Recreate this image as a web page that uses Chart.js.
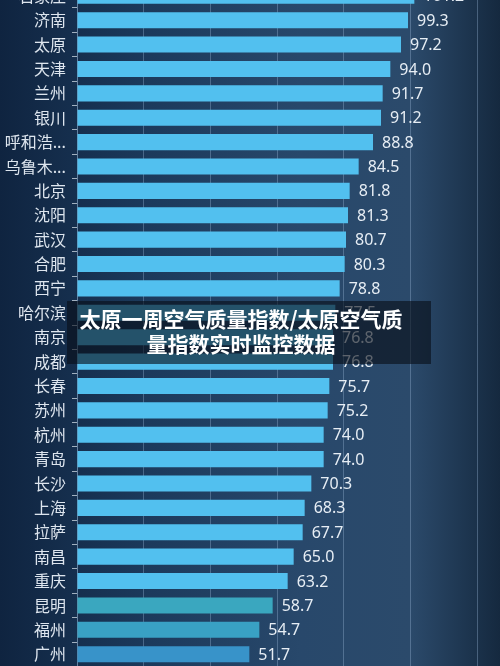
<!DOCTYPE html>
<html>
<head>
<meta charset="utf-8">
<script src="https://cdn.jsdelivr.net/npm/chart.js@4/dist/chart.umd.min.js"></script>
<style>
  html, body { margin: 0; padding: 0; }
  body {
    width: 500px; height: 666px; overflow: hidden; position: relative;
    background: linear-gradient(90deg, #0f2440 0%, #1c3a5c 30%, #28486b 60%, #2b4a6b 82%, #15293f 100%);
    font-family: "Noto Sans CJK SC", "Noto Sans", sans-serif;
  }
  .wrap { position: absolute; left: 0; top: -32px; width: 500px; height: 714px; }
  .caption {
    position: absolute; left: 67px; top: 301px; width: 348px;
    padding-right: 16px; padding-top: 5px; height: 58px;
    background: rgba(8, 14, 24, 0.62);
    color: #fff; font-weight: bold; font-size: 21px; line-height: 25px;
    text-align: center; box-sizing: content-box; white-space: nowrap;
  }
</style>
</head>
<body>
<div class="wrap"><canvas id="myChart"></canvas></div>
<div class="caption">太原一周空气质量指数/太原空气质<br>量指数实时监控数据</div>
<script>
const cities = ["石家庄", "济南", "太原", "天津", "兰州", "银川", "呼和浩特", "乌鲁木齐", "北京", "沈阳",
  "武汉", "合肥", "西宁", "哈尔滨", "南京", "成都", "长春", "苏州", "杭州", "青岛",
  "长沙", "上海", "拉萨", "南昌", "重庆", "昆明", "福州", "广州"];
const aqi = [101.2, 99.3, 97.2, 94.0, 91.7, 91.2, 88.8, 84.5, 81.8, 81.3,
  80.7, 80.3, 78.8, 77.5, 76.8, 76.8, 75.7, 75.2, 74.0, 74.0,
  70.3, 68.3, 67.7, 65.0, 63.2, 58.7, 54.7, 51.7];
const xTicks = [0, 20, 40, 60, 80, 100, 120];

// last three bars are drawn in a teal shade
const barColors = cities.map((c, i) =>
  i === 25 ? "#3aa7bf" : i === 26 ? "#39a1c4" : i === 27 ? "#3893c9" : "#52c0ef");

// draws the value text at the end of every bar
const valueLabels = {
  id: "valueLabels",
  afterDatasetsDraw(chart) {
    const c = chart.ctx;
    const meta = chart.getDatasetMeta(0);
    c.save();
    c.font = '16px "Noto Sans", "DejaVu Sans", sans-serif';
    c.fillStyle = "#e6edf4";
    c.textBaseline = "middle";
    c.textAlign = "left";
    meta.data.forEach((bar, i) => {
      c.fillText(aqi[i].toFixed(1), bar.x + 9, bar.y + 1);
    });
    c.restore();
  },
};

const ctx = document.getElementById("myChart").getContext("2d");
new Chart(ctx, {
  type: "bar",
  data: {
    labels: cities,
    datasets: [
      {
        data: aqi,
        backgroundColor: barColors,
        borderWidth: 0,
        categoryPercentage: 1,
        barPercentage: 0.66,
      },
    ],
  },
  options: {
    indexAxis: "y",
    responsive: true,
    maintainAspectRatio: false,
    animation: false,
    layout: { padding: { left: 0, right: 23, top: 0, bottom: 0 } },
    plugins: { legend: { display: false }, tooltip: { enabled: false } },
    scales: {
      x: {
        min: 0,
        max: 120,
        afterBuildTicks: (scale) => {
          scale.ticks = xTicks.map((v) => ({ value: v }));
        },
        ticks: { display: false },
        grid: { color: "rgba(160,190,220,0.35)", lineWidth: 1, drawTicks: false },
        border: { display: false },
      },
      y: {
        afterFit: (scale) => {
          scale.width = 77;
        },
        ticks: {
          color: "#dde5ee",
          padding: 6,
          font: { size: 16, family: '"Noto Sans CJK SC", sans-serif' },
          callback: function (value) {
            const name = this.getLabelForValue(value);
            return name.length > 3 ? name.slice(0, 3) + "..." : name;
          },
        },
        grid: { drawOnChartArea: false, drawTicks: true, tickLength: 5, color: "rgba(210,220,230,0.75)" },
        border: { display: true, color: "rgba(160,190,220,0.35)" },
      },
    },
  },
  plugins: [valueLabels],
});
</script>
</body>
</html>
